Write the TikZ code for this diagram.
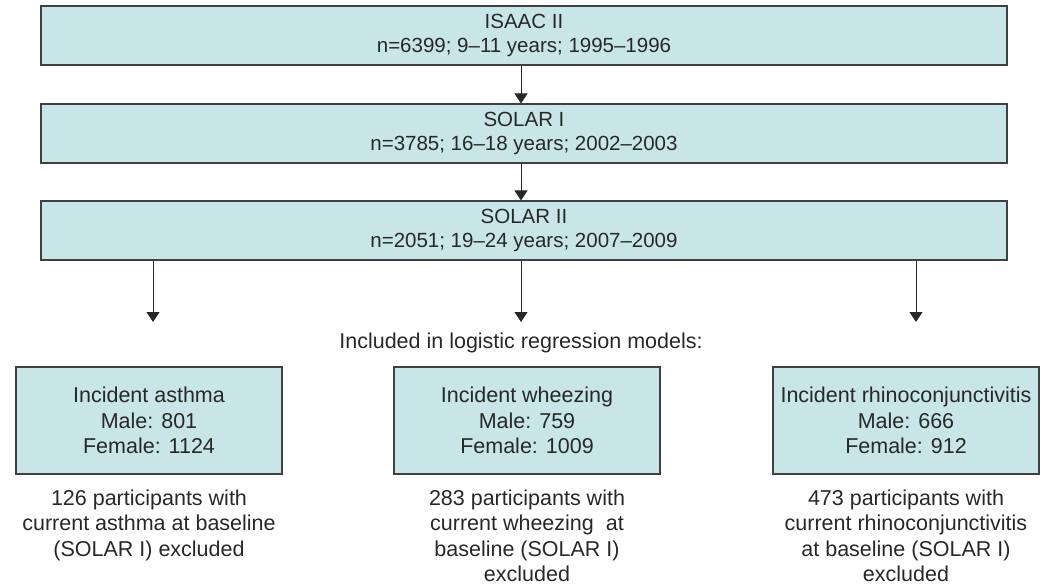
\documentclass[tikz,border=0pt]{standalone}
\usepackage{fontspec}
\setmainfont{Liberation Sans}
\usetikzlibrary{arrows.meta}
\definecolor{boxfill}{RGB}{200,230,232}
\definecolor{boxline}{RGB}{64,64,64}
\definecolor{txt}{RGB}{40,40,40}
\tikzset{
  bigbox/.style={draw=boxline, line width=1.1pt, fill=boxfill, minimum width=966pt, minimum height=59pt, inner sep=0pt, align=center, text=txt, font=\fontsize{20.5}{24}\selectfont},
  smallbox/.style={draw=boxline, line width=1.1pt, fill=boxfill, minimum width=266pt, minimum height=107pt, inner sep=0pt, align=center, text=txt, font=\fontsize{21.5}{25.5}\selectfont},
  note/.style={inner sep=0pt, align=center, text=txt, font=\fontsize{21.5}{25.5}\selectfont},
  arr/.style={draw=txt, line width=1pt, -{Triangle[width=13pt,length=10pt]}}
}
\begin{document}
\begin{tikzpicture}[x=1pt,y=-1pt]
\useasboundingbox (0,0) rectangle (1051,586);
\node[bigbox] (isaac) at (524,35.5) {ISAAC II\\n=6399; 9–11 years; 1995–1996};
\node[bigbox] (solar1) at (524,133.5) {SOLAR I\\n=3785; 16–18 years; 2002–2003};
\node[bigbox] (solar2) at (524,230.5) {SOLAR II\\n=2051; 19–24 years; 2007–2009};
\draw[arr] (isaac.south -| 521,0) -- (solar1.north -| 521,0);
\draw[arr] (solar1.south -| 521,0) -- (solar2.north -| 521,0);
\coordinate (t1) at (153,322);
\coordinate (t2) at (521,322);
\coordinate (t3) at (916,322);
\draw[arr] (solar2.south -| t1) -- (t1);
\draw[arr] (solar2.south -| t2) -- (t2);
\draw[arr] (solar2.south -| t3) -- (t3);
\node[note, anchor=base] (incl) at (521,348) {Included in logistic regression models:};
\node[smallbox] (asthma) at (149,420.5) {Incident asthma\\Male: 801\\Female: 1124};
\node[smallbox] (wheeze) at (527,420.5) {Incident wheezing\\Male: 759\\Female: 1009};
\node[smallbox] (rhino) at (906,420.5) {Incident rhinoconjunctivitis\\Male: 666\\Female: 912};
\node[note, anchor=north] (n1) at (149,489.5) {126 participants with\\current asthma at baseline\\(SOLAR I) excluded};
\node[note, anchor=north] (n2) at (527,489.5) {283 participants with\\current wheezing\ \ at\\baseline (SOLAR I)\\excluded};
\node[note, anchor=north] (n3) at (906,489.5) {473 participants with\\current rhinoconjunctivitis\\at baseline (SOLAR I)\\excluded};
\end{tikzpicture}
\end{document}
